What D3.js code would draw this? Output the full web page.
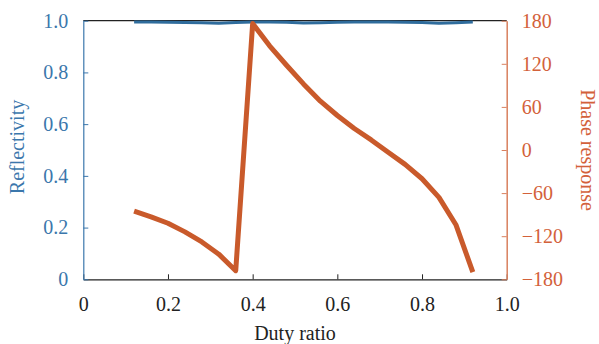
<!DOCTYPE html>
<html>
<head>
<meta charset="utf-8">
<script src="https://cdn.jsdelivr.net/npm/d3@7"></script>
<style>
  body { margin: 0; background: #fff; }
</style>
</head>
<body>
<svg id="chart"></svg>
<script>
// duty ratio samples
const duty = [0.12, 0.16, 0.20, 0.24, 0.28, 0.32, 0.36, 0.40, 0.44, 0.48, 0.52,
              0.56, 0.60, 0.64, 0.68, 0.72, 0.76, 0.80, 0.84, 0.88, 0.92];
const reflectivity = [0.995, 0.995, 0.994, 0.993, 0.992, 0.990, 0.993, 0.995, 0.995, 0.994, 0.991,
                      0.992, 0.994, 0.995, 0.995, 0.995, 0.994, 0.993, 0.990, 0.992, 0.995];
const phase = [-85, -93, -102, -114, -128, -145, -168, 176, 145, 118, 92,
               68, 48, 30, 14, -3, -20, -40, -66, -104, -170];
const xTicks = [0, 0.2, 0.4, 0.6, 0.8, 1.0];
const leftTicks = [0, 0.2, 0.4, 0.6, 0.8, 1.0];
const rightTicks = [-180, -120, -60, 0, 60, 120, 180];

const W = 599, H = 344;
const margin = { top: 20.7, right: 92.3, bottom: 64.7, left: 83.3 };
const width = W - margin.left - margin.right;
const height = H - margin.top - margin.bottom;

const serif = '"Liberation Serif", Tinos, "Times New Roman", Times, "Nimbus Roman", "Nimbus Roman No9 L", FreeSerif, "Noto Serif", "DejaVu Serif", serif';
const blue = "#3b77ac", blueLine = "#2f6c9c";
const orange = "#d3613a", orangeLine = "#c95a2b", orangeAxis = "#d9805e";

const svg = d3.select("#chart").attr("width", W).attr("height", H)
  .style("font-family", serif);
const g = svg.append("g").attr("transform", `translate(${margin.left},${margin.top})`);

const x = d3.scaleLinear().domain([0, 1]).range([0, width]);
const yL = d3.scaleLinear().domain([0, 1]).range([height, 0]);
const yR = d3.scaleLinear().domain([-180, 180]).range([height, 0]);

const fmt1 = d => d === 0 ? "0" : d3.format(".1f")(d);
const minusFmt = d => d < 0 ? "\u2212" + Math.abs(d) : String(d);

// top frame
g.append("line").attr("x1", 0).attr("x2", width).attr("y1", 0).attr("y2", 0)
  .attr("stroke", "#222").attr("stroke-width", 1.2);

// bottom axis
const xAxis = g.append("g").attr("transform", `translate(0,${height})`)
  .call(d3.axisBottom(x).tickValues(xTicks).tickFormat(fmt1).tickSizeInner(-5).tickSizeOuter(0).tickPadding(18));
xAxis.attr("font-family", null);
xAxis.select(".domain").attr("stroke", "#222").attr("stroke-width", 1.2);
xAxis.selectAll(".tick line").attr("stroke", "#222");
xAxis.selectAll("text").attr("fill", "#222").style("font-size", "20px");

// left axis
const lAxis = g.append("g")
  .call(d3.axisLeft(yL).tickValues(leftTicks).tickFormat(fmt1).tickSizeInner(-5).tickSizeOuter(0).tickPadding(15));
lAxis.attr("font-family", null);
lAxis.select(".domain").attr("stroke", blue).attr("stroke-width", 1.2);
lAxis.selectAll(".tick line").attr("stroke", blue);
lAxis.selectAll("text").attr("fill", blue).style("font-size", "20px");

// right axis
const rAxis = g.append("g").attr("transform", `translate(${width},0)`)
  .call(d3.axisRight(yR).tickValues(rightTicks).tickFormat(minusFmt).tickSizeInner(-5).tickSizeOuter(0).tickPadding(15));
rAxis.attr("font-family", null);
rAxis.select(".domain").attr("stroke", orangeAxis).attr("stroke-width", 1.5);
rAxis.selectAll(".tick line").attr("stroke", orangeAxis);
rAxis.selectAll("text").attr("fill", orange).style("font-size", "20px");

// reflectivity line
const refLine = d3.line().x((d, i) => x(duty[i])).y(d => yL(d));
g.append("path").datum(reflectivity)
  .attr("fill", "none").attr("stroke", blueLine).attr("stroke-width", 3)
  .attr("d", refLine);

// phase line
const phLine = d3.line().x((d, i) => x(duty[i])).y(d => yR(d));
g.append("path").datum(phase)
  .attr("fill", "none").attr("stroke", orangeLine).attr("stroke-width", 5)
  .attr("stroke-linejoin", "round")
  .attr("d", phLine);

// axis titles
svg.append("text")
  .attr("transform", `translate(${margin.left + width / 2},${H - 4})`)
  .attr("text-anchor", "middle").attr("fill", "#222").style("font-size", "20px")
  .text("Duty ratio");

svg.append("text")
  .attr("transform", `translate(24,147) rotate(-90)`)
  .attr("text-anchor", "middle").attr("fill", blue).style("font-size", "20px")
  .text("Reflectivity");

svg.append("text")
  .attr("transform", `translate(581,150) rotate(90)`)
  .attr("text-anchor", "middle").attr("fill", orange).style("font-size", "20px")
  .text("Phase response");
</script>
</body>
</html>
